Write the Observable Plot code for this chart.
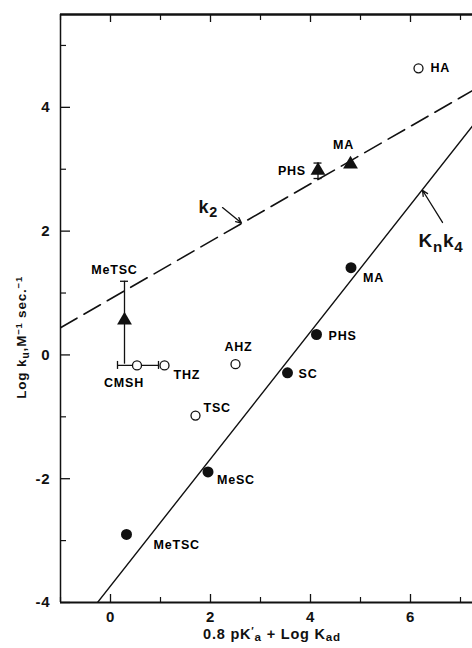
<!DOCTYPE html>
<html>
<head>
<meta charset="utf-8">
<script src="https://cdn.jsdelivr.net/npm/d3@7"></script>
<script src="https://cdn.jsdelivr.net/npm/@observablehq/plot@0.6"></script>
<style>
  body { margin: 0; background: #fff; }
  #chart svg { display: block; }
</style>
</head>
<body>
<div id="chart"></div>
<script>
// Rate constants for hydrazine-type nucleophiles: log k_u against 0.8 pK'a + log K_ad

// axes
const xDomain = [-1, 7.24];
const yDomain = [-4, 5.5];
const xTickLabels = [0, 2, 4, 6];
const yTickLabels = [-4, -2, 0, 2, 4];
const xMinorTicks = [-1, 1, 3, 5, 7];
const yMinorTicks = [-3, -1, 1, 3, 5];

// k2 (filled triangles), with error bars
const k2Names = ["MeTSC", "PHS", "MA"];
const k2X = [0.28, 4.15, 4.8];
const k2Y = [0.56, 2.98, 3.08];
const k2ErrLow = [-0.15, 2.85, null];
const k2ErrHigh = [1.19, 3.1, null];

// Kn·k4 (filled circles)
const knNames = ["MeTSC", "MeSC", "SC", "PHS", "MA"];
const knX = [0.32, 1.95, 3.54, 4.12, 4.81];
const knY = [-2.9, -1.89, -0.29, 0.33, 1.41];

// other nucleophiles (open circles)
const openNames = ["CMSH", "THZ", "TSC", "AHZ", "HA"];
const openX = [0.53, 1.08, 1.7, 2.5, 6.16];
const openY = [-0.17, -0.17, -0.98, -0.15, 4.63];
const cmshErrX = [0.14, 0.96];

// fitted lines (end points)
const k2LineX = [-1, 7.24];
const k2LineY = [0.44, 4.27];
const knLineX = [-0.26, 7.24];
const knLineY = [-4, 3.7];

// pointers from the line names to the lines: [tail x, tail y, head x, head y]
const k2Pointer = [2.24, 2.38, 2.62, 2.13];
const knPointer = [6.64, 2.14, 6.24, 2.66];

// ---- tables built from the arrays above ----
const k2Pts = k2Names.map((name, i) => ({name, x: k2X[i], y: k2Y[i], lo: k2ErrLow[i], hi: k2ErrHigh[i]}));
const k2Bars = k2Pts.filter(d => d.lo != null);
const knPts = knNames.map((name, i) => ({name, x: knX[i], y: knY[i]}));
const openPts = openNames.map((name, i) => ({name, x: openX[i], y: openY[i]}));
const cmsh = openPts.find(d => d.name === "CMSH");
const cmshBar = [{y: cmsh.y, x1: cmshErrX[0], x2: cmshErrX[1]}];
const k2Line = k2LineX.map((x, i) => ({x, y: k2LineY[i]}));
const knLine = knLineX.map((x, i) => ({x, y: knLineY[i]}));
const pointers = [k2Pointer, knPointer].map(([x1, y1, x2, y2]) => ({x1, y1, x2, y2}));

// label offsets in pixels, per series and name
const placement = {
  "k2:MeTSC": {dx: -10, dy: -50, a: "middle"},
  "k2:PHS":   {dx: -12, dy: 1,   a: "end"},
  "k2:MA":    {dx: -7,  dy: -19, a: "middle"},
  "kn:MeTSC": {dx: 27,  dy: 11,  a: "start"},
  "kn:MeSC":  {dx: 9,   dy: 8,   a: "start"},
  "kn:SC":    {dx: 11,  dy: 1,   a: "start"},
  "kn:PHS":   {dx: 12,  dy: 2,   a: "start"},
  "kn:MA":    {dx: 12,  dy: 10,  a: "start"},
  "op:CMSH":  {dx: -13, dy: 18,  a: "middle"},
  "op:THZ":   {dx: 9,   dy: 10,  a: "start"},
  "op:TSC":   {dx: 8,   dy: -8,  a: "start"},
  "op:AHZ":   {dx: 3,   dy: -17, a: "middle"},
  "op:HA":    {dx: 12,  dy: 0,   a: "start"}
};
const labelMarks = [["k2", k2Pts], ["kn", knPts], ["op", openPts]].flatMap(([key, pts]) =>
  pts.map(d => {
    const p = placement[`${key}:${d.name}`];
    return Plot.text([d], {x: "x", y: "y", text: "name", dx: p.dx, dy: p.dy, textAnchor: p.a,
      fontSize: 12.5, fontWeight: "bold", fill: "black"});
  })
);

const ink = "#111";
const chart = Plot.plot({
  width: 472,
  height: 648,
  marginLeft: 60,
  marginRight: 0,
  marginTop: 14,
  marginBottom: 46,
  style: {fontFamily: "'Liberation Sans', Arial, sans-serif", background: "#fff", letterSpacing: "0.8px", color: ink},
  x: {domain: xDomain, axis: null},
  y: {domain: yDomain, axis: null},
  marks: [
    // frame: left, top and bottom edges
    Plot.ruleX([xDomain[0]], {stroke: ink, strokeWidth: 1.5}),
    Plot.ruleY([yDomain[1]], {stroke: ink, strokeWidth: 2.4}),
    Plot.ruleY([yDomain[0]], {stroke: ink, strokeWidth: 2}),
    // inward ticks
    Plot.ruleY(yTickLabels, {y: d => d, x1: xDomain[0], x2: xDomain[0], insetRight: -10, stroke: ink, strokeWidth: 1.3}),
    Plot.ruleY(yMinorTicks, {y: d => d, x1: xDomain[0], x2: xDomain[0], insetRight: -6, stroke: ink, strokeWidth: 1.2}),
    Plot.ruleX(xTickLabels, {x: d => d, y1: yDomain[0], y2: yDomain[0], insetTop: -8, stroke: ink, strokeWidth: 1.3}),
    Plot.ruleX(xMinorTicks, {x: d => d, y1: yDomain[0], y2: yDomain[0], insetTop: -5, stroke: ink, strokeWidth: 1.2}),
    Plot.ruleX(xTickLabels, {x: d => d, y1: yDomain[1], y2: yDomain[1], insetBottom: -8, stroke: ink, strokeWidth: 1.3}),
    Plot.ruleX(xMinorTicks, {x: d => d, y1: yDomain[1], y2: yDomain[1], insetBottom: -6, stroke: ink, strokeWidth: 1.2}),
    // tick labels
    Plot.axisX(xTickLabels, {tickSize: 0, tickPadding: 9, label: null, fontSize: 15, fontWeight: "bold", tickFormat: d => String(d)}),
    Plot.axisY(yTickLabels, {tickSize: 0, tickPadding: 10, label: null, fontSize: 15, fontWeight: "bold", tickFormat: d => String(d)}),
    // fitted lines
    Plot.line(k2Line, {x: "x", y: "y", stroke: ink, strokeWidth: 1.6, strokeDasharray: "19,8", clip: true}),
    Plot.line(knLine, {x: "x", y: "y", stroke: ink, strokeWidth: 1.4, clip: true}),
    Plot.arrow(pointers, {x1: "x1", y1: "y1", x2: "x2", y2: "y2", stroke: ink, strokeWidth: 1.3, headLength: 7, headAngle: 50}),
    // error bars with caps
    Plot.ruleX(k2Bars, {x: "x", y1: "lo", y2: "hi", stroke: ink, strokeWidth: 1.3}),
    Plot.ruleY(k2Bars, {y: "hi", x1: "x", x2: "x", insetLeft: -4, insetRight: -4, stroke: ink, strokeWidth: 1.3}),
    Plot.ruleY(k2Bars.filter(d => d.name !== "MeTSC"), {y: "lo", x1: "x", x2: "x", insetLeft: -4, insetRight: -4, stroke: ink, strokeWidth: 1.3}),
    Plot.ruleY(cmshBar, {y: "y", x1: "x1", x2: "x2", stroke: ink, strokeWidth: 1.3}),
    Plot.ruleX(cmshBar, {x: "x1", y1: "y", y2: "y", insetTop: -4, insetBottom: -4, stroke: ink, strokeWidth: 1.3}),
    Plot.ruleX(cmshBar, {x: "x2", y1: "y", y2: "y", insetTop: -4, insetBottom: -4, stroke: ink, strokeWidth: 1.3}),
    // points
    Plot.dot(k2Pts, {x: "x", y: "y", symbol: "triangle", r: 5.5, fill: ink}),
    Plot.dot(knPts, {x: "x", y: "y", r: 5.5, fill: ink}),
    Plot.dot(openPts, {x: "x", y: "y", r: 4.5, fill: "#fff", stroke: ink, strokeWidth: 1.3}),
    ...labelMarks
  ]
});

document.getElementById("chart").append(chart);

// names of the fitted lines and axis titles, which need sub/superscripts
const svg = d3.select(chart);
const sx = chart.scale("x"), sy = chart.scale("y");

function richText(parent, parts, attrs) {
  const t = parent.append("text");
  for (const [k, v] of Object.entries(attrs)) t.attr(k, v);
  t.attr("fill", ink);
  if (!attrs["font-weight"]) t.attr("font-weight", "bold");
  for (const p of parts) {
    const s = t.append("tspan").text(p.t);
    if (p.sub) s.attr("baseline-shift", p.shift || "-30%").attr("font-size", p.size || "80%");
    if (p.sup) s.attr("baseline-shift", p.shift || "45%").attr("font-size", p.size || "70%");
    if (p.dx != null) s.attr("dx", p.dx);
  }
  return t;
}

// "k2" at the tail of its pointer, "Kn k4" below its pointer
richText(svg, [{t: "k"}, {t: "2", sub: true}], {
  x: sx.apply(k2Pointer[0]) - 4, y: sy.apply(k2Pointer[1]) + 6,
  "text-anchor": "end", "font-size": 18
});
richText(svg, [{t: "K"}, {t: "n", sub: true}, {t: "k"}, {t: "4", sub: true}], {
  x: sx.apply(knPointer[0]) - 1, y: sy.apply(knPointer[1]) + 25,
  "text-anchor": "middle", "font-size": 19
});

// axis titles
const plotMidX = (sx.range[0] + sx.range[1]) / 2;
richText(svg, [
  {t: "0.8 pK"}, {t: "′", sup: true}, {t: "a", sub: true, shift: "-20%"}, {t: " + Log K"}, {t: "ad", sub: true, shift: "-20%"}
], {x: plotMidX + 6, y: 639, "text-anchor": "middle", "font-size": 14.5});

richText(svg, [
  {t: "Log k"}, {t: "u", sub: true}, {t: ",M"}, {t: "−1", sup: true}, {t: " sec."}, {t: "−1", sup: true}
], {transform: `translate(26,${sy.apply(0) - 17}) rotate(-90)`, "text-anchor": "middle", "font-size": 13.5});
</script>
</body>
</html>
